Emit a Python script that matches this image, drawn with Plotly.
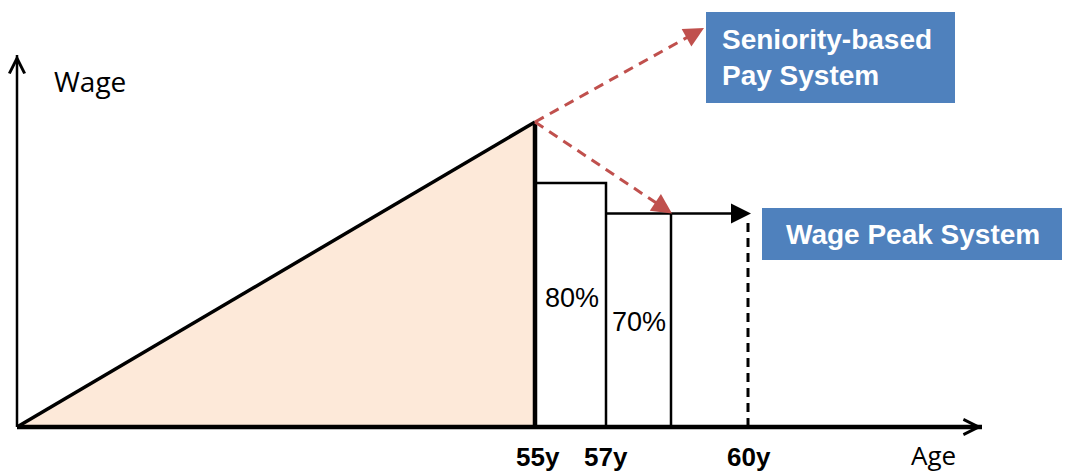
import math
import plotly.graph_objects as go

# ---- data -------------------------------------------------------------
# wage levels relative to the peak wage reached at 55
peak_wage = 100
step_levels = [80, 70]            # after 55y and after 57y
step_labels = ["80%", "70%"]
age_labels = ["55y", "57y", "60y"]
axis_titles = ["Wage", "Age"]
box_labels = ["Seniority-based<br>Pay System", "Wage Peak System"]

# ---- layout constants ---------------------------------------------------
W, H = 1067, 475
ORIGIN_PX = (17, 427)             # where the two axes meet on the canvas
PX_PER_UNIT = 3.05                # vertical pixels per wage unit

# schematic horizontal positions along the age axis (pixels from origin)
X_55 = 518
X_57 = 589
X_STEP_END = 654
X_60 = 731
X_AXIS_END = 965
Y_AXIS_TOP = 122

BLACK = "#000000"
RED = "#C0504D"
BLUE = "#4F81BD"
PEACH = "#FDE9D9"


def px_x(px):
    return px / W


def px_y(py):
    return 1 - py / H


def unit_px(x0, y0, x1, y1):
    """Unit direction in screen pixels from (x0, y0) to (x1, y1)."""
    dx, dy = x1 - x0, (y1 - y0) * PX_PER_UNIT
    n = math.hypot(dx, dy)
    return dx / n, dy / n


def back(x, y, ux, uy, dist):
    """Point `dist` pixels back from (x, y) along direction (ux, uy)."""
    return x - ux * dist, y - uy * dist / PX_PER_UNIT


def arrow_head(x0, y0, x1, y1, color):
    """Filled arrow head whose tip lands on (x1, y1)."""
    ux, uy = unit_px(x0, y0, x1, y1)
    sx, sy = back(x1, y1, ux, uy, 8)
    return dict(x=x1, y=y1, ax=sx, ay=sy, xref="x", yref="y", axref="x",
                ayref="y", text="", showarrow=True, arrowhead=2,
                arrowsize=2, arrowwidth=2, arrowcolor=color, standoff=0)


fig = go.Figure()
annotations = []

# area under the seniority curve up to the peak
fig.add_trace(go.Scatter(
    x=[0, X_55, X_55, 0], y=[0, peak_wage, 0, 0],
    fill="toself", fillcolor=PEACH, mode="none", hoverinfo="skip"))

# rising seniority line
fig.add_trace(go.Scatter(
    x=[0, X_55], y=[0, peak_wage], mode="lines",
    line=dict(color=BLACK, width=3.5), hoverinfo="skip"))

# axes
fig.add_trace(go.Scatter(
    x=[0, 0], y=[0, Y_AXIS_TOP], mode="lines",
    line=dict(color=BLACK, width=2.5), hoverinfo="skip"))
fig.add_trace(go.Scatter(
    x=[0, X_AXIS_END], y=[0, 0], mode="lines",
    line=dict(color=BLACK, width=4.5), hoverinfo="skip"))

# peak drop line at 55
fig.add_trace(go.Scatter(
    x=[X_55, X_55], y=[0, peak_wage], mode="lines",
    line=dict(color=BLACK, width=4.5), hoverinfo="skip"))

# first reduced step (55y-57y)
fig.add_trace(go.Scatter(
    x=[X_55, X_57, X_57], y=[step_levels[0], step_levels[0], 0], mode="lines",
    line=dict(color=BLACK, width=2.5), hoverinfo="skip"))

# second reduced step and its continuation towards 60y
fig.add_trace(go.Scatter(
    x=[X_STEP_END, X_STEP_END], y=[0, step_levels[1]], mode="lines",
    line=dict(color=BLACK, width=2.5), hoverinfo="skip"))
tip_60 = X_60 + 3
fig.add_trace(go.Scatter(
    x=[X_57, tip_60 - 12], y=[step_levels[1], step_levels[1]], mode="lines",
    line=dict(color=BLACK, width=2.5), hoverinfo="skip"))
annotations.append(arrow_head(X_57, step_levels[1], tip_60, step_levels[1],
                              BLACK))

# retirement age marker
fig.add_trace(go.Scatter(
    x=[X_60, X_60], y=[0, step_levels[1] - 1.5], mode="lines",
    line=dict(color=BLACK, width=3, dash="9px,6px"), hoverinfo="skip"))

# dashed red arrows from the peak to the two systems
seniority_tip = (687, (ORIGIN_PX[1] - 28) / PX_PER_UNIT)
for tx, ty in [seniority_tip, (X_STEP_END + 1, step_levels[1])]:
    ux, uy = unit_px(X_55, peak_wage, tx, ty)
    ex, ey = back(tx, ty, ux, uy, 14)
    fig.add_trace(go.Scatter(
        x=[X_55, ex], y=[peak_wage, ey], mode="lines",
        line=dict(color=RED, width=3, dash="10px,7px"), hoverinfo="skip"))
    annotations.append(arrow_head(X_55, peak_wage, tx, ty, RED))

# open arrow heads on the axes
annotations.append(dict(
    x=0, y=Y_AXIS_TOP, ax=0, ay=Y_AXIS_TOP - 6, xref="x", yref="y",
    axref="x", ayref="y", text="", showarrow=True, arrowhead=5,
    arrowsize=1.5, arrowwidth=2, arrowcolor=BLACK))
annotations.append(dict(
    x=X_AXIS_END, y=0, ax=X_AXIS_END - 20, ay=0, xref="x", yref="y",
    axref="x", ayref="y", text="", showarrow=True, arrowhead=5,
    arrowsize=1.5, arrowwidth=2, arrowcolor=BLACK))


def label(x, y, text, size, family, color=BLACK, xanchor="center",
          xref="paper", align="center"):
    return dict(x=x, y=y, xref=xref, yref="paper", text=text,
                showarrow=False, xanchor=xanchor, yanchor="middle",
                align=align, font=dict(family=family, size=size, color=color))


# axis titles
annotations.append(label(px_x(90), px_y(81), axis_titles[0], 28, "Open Sans"))
annotations.append(label(px_x(933), px_y(455), axis_titles[1], 26, "Open Sans"))

# age tick labels
for lab, xv in zip(age_labels, [X_55 + 3, X_57, X_60 + 1]):
    annotations.append(label(xv, px_y(457), f"<b>{lab}</b>", 26,
                             "Liberation Sans", xref="x"))

# step percentage labels
for lab, (cx, cy) in zip(step_labels, [(572, 298), (639, 322)]):
    annotations.append(label(px_x(cx), px_y(cy), lab, 27, "Liberation Sans"))

# system boxes
shapes = [
    dict(type="rect", xref="paper", yref="paper",
         x0=px_x(706), x1=px_x(955), y0=px_y(103), y1=px_y(12),
         fillcolor=BLUE, line=dict(width=0), layer="below"),
    dict(type="rect", xref="paper", yref="paper",
         x0=px_x(762), x1=px_x(1062), y0=px_y(260), y1=px_y(208),
         fillcolor=BLUE, line=dict(width=0), layer="below"),
]
annotations.append(label(px_x(720), px_y(58), f"<b>{box_labels[0]}</b>", 28,
                         "Liberation Sans", color="white", xanchor="left",
                         align="left"))
annotations.append(label(px_x(913), px_y(234), f"<b>{box_labels[1]}</b>", 28,
                         "Liberation Sans", color="white"))

fig.update_layout(
    width=W, height=H,
    margin=dict(l=0, r=0, t=0, b=0),
    paper_bgcolor="white", plot_bgcolor="white",
    showlegend=False,
    xaxis=dict(visible=False, range=[-ORIGIN_PX[0], W - ORIGIN_PX[0]],
               domain=[0, 1], fixedrange=True),
    yaxis=dict(visible=False,
               range=[-(H - ORIGIN_PX[1]) / PX_PER_UNIT,
                      ORIGIN_PX[1] / PX_PER_UNIT],
               domain=[0, 1], fixedrange=True),
    shapes=shapes,
    annotations=annotations,
)

fig.write_html("out.html")
